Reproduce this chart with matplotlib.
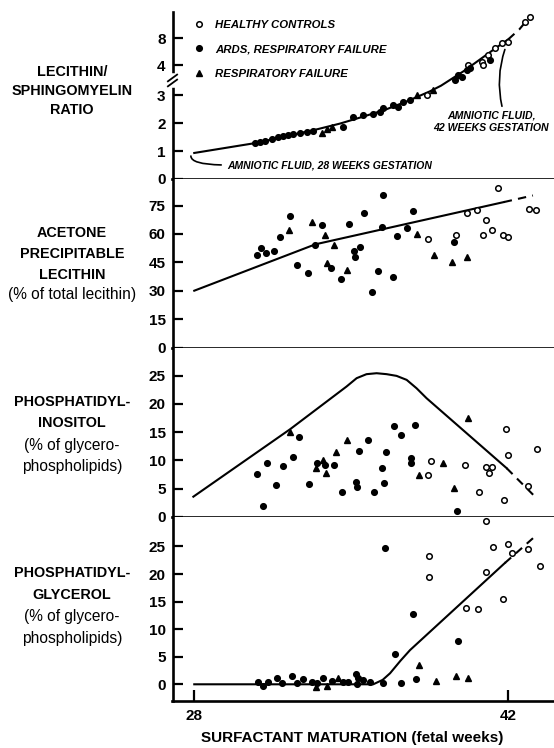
import numpy as np
import matplotlib
matplotlib.use('Agg')
import matplotlib.pyplot as plt

plt.rcParams['font.family'] = ['Liberation Sans Narrow', 'Liberation Sans', 'DejaVu Sans']

# ---------------- data ----------------
# panel 1: lecithin / sphingomyelin ratio
ls_line_x = [28.0, 29.0, 30.0, 30.7, 31.5, 32.5, 33.5, 34.5, 35.5, 36.5, 37.5, 38.5, 39.0, 39.5, 40.0, 40.5, 41.0, 41.5, 42.0]
ls_line_y = [0.93, 1.06, 1.19, 1.28, 1.42, 1.60, 1.78, 1.98, 2.22, 2.47, 2.78, 3.12, 3.31, 3.55, 3.79, 4.25, 5.45, 6.65, 7.8]
ls_dash_x = [42.0, 42.5, 42.9]
ls_dash_y = [7.8, 9.3, 10.9]
ls_hc_x = [38.36, 40.22, 40.81, 40.88, 41.11, 41.41, 41.71, 42.0, 42.74, 42.97]
ls_hc_y = [3.0, 4.0, 4.49, 4.0, 5.48, 6.5, 7.2, 7.4, 10.4, 11.1]
ls_ards_x = [30.71, 30.93, 31.16, 31.45, 31.75, 31.97, 32.19, 32.41, 32.71, 33.01, 33.31, 34.64, 35.09,
             35.53, 35.98, 36.28, 36.43, 36.87, 37.09, 37.32, 37.62, 39.62, 39.77, 39.92, 40.14, 40.29, 41.18]
ls_ards_y = [1.27, 1.33, 1.37, 1.42, 1.49, 1.54, 1.57, 1.61, 1.65, 1.69, 1.73, 1.87, 2.23,
             2.29, 2.33, 2.40, 2.52, 2.64, 2.58, 2.76, 2.82, 3.50, 3.67, 3.61, 3.83, 3.89, 4.74]
ls_rf_x = [33.68, 33.90, 34.13, 37.91, 38.66]
ls_rf_y = [1.63, 1.80, 1.86, 3.0, 3.17]

# panel 2: acetone precipitable lecithin (%)
apl_line_x = [28.0, 33.4, 41.8]
apl_line_y = [30.0, 54.5, 76.8]
apl_dash_x = [41.8, 43.1]
apl_dash_y = [76.8, 80.3]
apl_ards_x = [30.81, 30.96, 31.20, 31.55, 31.82, 32.27, 32.59, 33.05, 33.38, 33.68, 34.09, 34.53, 34.90,
              35.12, 35.15, 35.37, 35.58, 35.94, 36.20, 36.40, 36.38, 36.84, 37.02, 37.48, 37.77, 39.58]
apl_ards_y = [48.9, 52.6, 50.1, 50.8, 58.6, 69.4, 43.8, 39.2, 54.2, 64.8, 42.0, 36.2, 65.3,
              50.8, 48.0, 53.3, 71.1, 29.1, 40.6, 80.5, 63.5, 37.1, 59.1, 63.0, 72.2, 55.9]
apl_rf_x = [32.24, 33.26, 33.83, 33.90, 34.23, 34.79, 37.91, 38.67, 39.47, 40.14]
apl_rf_y = [61.8, 66.5, 59.5, 44.5, 54.4, 41.1, 60.0, 48.9, 45.0, 47.6]
apl_hc_x = [38.43, 39.65, 40.14, 40.59, 40.89, 41.03, 41.26, 41.55, 41.75, 42.0, 42.94, 43.23]
apl_hc_y = [57.4, 59.6, 70.9, 72.7, 59.5, 67.4, 61.8, 84.2, 59.6, 58.6, 73.2, 72.7]

# panel 3: phosphatidylinositol (%)
pi_line_x = [27.96, 32.27, 34.79, 35.24, 35.68, 36.13, 36.58, 37.02, 37.47, 37.91, 38.36, 41.93]
pi_line_y = [3.55, 15.5, 23.08, 24.56, 25.27, 25.44, 25.27, 24.97, 24.26, 22.78, 21.0, 8.6]
pi_dash_x = [41.93, 43.12]
pi_dash_y = [8.6, 3.85]
pi_ards_x = [30.78, 31.05, 31.26, 31.63, 31.97, 32.42, 32.67, 33.11, 33.46, 33.83, 34.24, 34.57, 35.2,
             35.24, 35.33, 35.73, 36.01, 36.38, 36.44, 36.55, 36.89, 37.22, 37.65, 37.65, 37.85, 39.71]
pi_ards_y = [7.57, 1.95, 9.59, 5.62, 9.05, 10.53, 14.2, 5.80, 9.47, 9.17, 9.17, 4.38, 6.21,
             5.21, 11.6, 13.6, 4.32, 8.58, 6.04, 11.4, 16.0, 14.4, 10.4, 9.59, 16.3, 1.07]
pi_rf_x = [32.27, 33.41, 33.75, 33.87, 34.32, 34.82, 38.0, 39.1, 39.6, 40.19]
pi_rf_y = [15.1, 8.58, 10.06, 7.69, 11.4, 13.6, 7.40, 9.47, 5.15, 17.5]
pi_hc_x = [38.43, 38.54, 40.08, 40.69, 41.0, 41.12, 41.27, 41.8, 41.92, 42.0, 42.86, 43.27]
pi_hc_y = [7.40, 9.94, 9.23, 4.38, 8.82, 7.81, 8.76, 3.02, 15.5, 10.95, 5.44, 12.07]

# panel 4: phosphatidylglycerol (%)
pg_line_x = [28.0, 35.98, 36.4, 36.73, 37.2, 37.62, 41.85]
pg_line_y = [0.0, 0.0, 0.8, 2.0, 4.3, 6.2, 22.0]
pg_dash_x = [41.85, 43.27]
pg_dash_y = [22.0, 27.1]
pg_ards_x = [30.86, 31.08, 31.30, 31.67, 31.90, 32.34, 32.56, 32.86, 33.23, 33.46, 33.75, 34.13, 34.65, 34.87,
             35.21, 35.27, 35.31, 35.54, 35.84, 36.43, 36.50, 36.95, 37.20, 37.74, 37.87, 39.77]
pg_ards_y = [0.48, -0.24, 0.36, 1.21, 0.30, 1.57, 0.30, 0.91, 0.36, 0.18, 1.21, 0.67, 0.36, 0.48,
             1.88, 0.0, 1.09, 0.79, 0.36, 0.18, 24.7, 5.45, 0.18, 12.7, 0.9, 7.93]
pg_rf_x = [33.41, 33.90, 34.42, 38.04, 38.78, 39.67, 40.22]
pg_rf_y = [-0.42, -0.24, 1.21, 3.45, 0.6, 1.57, 1.09]
pg_hc_x = [38.48, 38.48, 40.11, 40.63, 40.99, 41.0, 41.33, 41.78, 41.99, 42.15, 42.90, 43.42]
pg_hc_y = [23.3, 19.4, 13.9, 13.6, 29.7, 20.3, 24.9, 15.5, 25.4, 23.8, 24.5, 21.5]

legend_labels = ['HEALTHY CONTROLS', 'ARDS, RESPIRATORY FAILURE', 'RESPIRATORY FAILURE']


# broken y scale for the L/S ratio (0-3 linear, compressed above 4)
_bp_x = [-100.0, 3.0, 4.0, 100.0]
_bp_y = [-100.0, 3.0, 4.071, 4.071 + 96 * 0.2413]


def ls_fwd(v):
    return np.interp(v, _bp_x, _bp_y)


def ls_inv(v):
    return np.interp(v, _bp_y, _bp_x)


W, H = 554, 748
fig = plt.figure(figsize=(W / 100, H / 100), dpi=100)

left = 172.5 / W
width = 1 - left
panels_px = [(12, 179), (179, 347.5), (347.5, 516.7), (516.7, 701)]
axes = []
for top, bot in panels_px:
    axes.append(fig.add_axes([left, 1 - bot / H, width, (bot - top) / H]))
ax1, ax2, ax3, ax4 = axes


def style(ax, ylim, yticks):
    ax.set_xlim(27.03, 44.04)
    ax.set_ylim(*ylim)
    ax.set_yticks(yticks)
    ax.spines['top'].set_visible(False)
    ax.spines['right'].set_visible(False)
    ax.spines['left'].set_linewidth(1.9)
    ax.spines['bottom'].set_linewidth(1.9)
    ax.tick_params(axis='y', direction='in', length=7, width=1.6, labelsize=11, pad=5)
    ax.tick_params(axis='x', bottom=False, labelbottom=False)
    for lab in ax.get_yticklabels():
        lab.set_fontweight('bold')


def draw(ax, lx, ly, dx, dy, hx, hy, ax_, ay_, rx, ry):
    ax.plot(lx, ly, '-', color='k', lw=1.5, zorder=2)
    ax.plot(dx, dy, color='k', lw=1.5, ls=(0, (4, 3)), zorder=2)
    h1, = ax.plot(hx, hy, 'o', ms=4.0, mfc='white', mec='k', mew=1.1, zorder=3)
    h2, = ax.plot(ax_, ay_, 'o', ms=4.1, color='k', zorder=3)
    h3, = ax.plot(rx, ry, '^', ms=4.9, color='k', zorder=3)
    return [h1, h2, h3]


ax1.set_yscale('function', functions=(ls_fwd, ls_inv))
handles = draw(ax1, ls_line_x, ls_line_y, ls_dash_x, ls_dash_y, ls_hc_x, ls_hc_y,
               ls_ards_x, ls_ards_y, ls_rf_x, ls_rf_y)
style(ax1, (0, 11.85), [0, 1, 2, 3, 4, 8])

draw(ax2, apl_line_x, apl_line_y, apl_dash_x, apl_dash_y, apl_hc_x, apl_hc_y,
     apl_ards_x, apl_ards_y, apl_rf_x, apl_rf_y)
style(ax2, (0, 89), [0, 15, 30, 45, 60, 75])

draw(ax3, pi_line_x, pi_line_y, pi_dash_x, pi_dash_y, pi_hc_x, pi_hc_y,
     pi_ards_x, pi_ards_y, pi_rf_x, pi_rf_y)
style(ax3, (0, 30), [0, 5, 10, 15, 20, 25])

draw(ax4, pg_line_x, pg_line_y, pg_dash_x, pg_dash_y, pg_hc_x, pg_hc_y,
     pg_ards_x, pg_ards_y, pg_rf_x, pg_rf_y)
style(ax4, (-3.03, 30.4), [0, 5, 10, 15, 20, 25])
ax4.set_xticks([28, 42])
ax4.tick_params(axis='x', bottom=True, labelbottom=True, direction='in', length=8,
                width=1.6, labelsize=11, pad=6)
for lab in ax4.get_xticklabels():
    lab.set_fontweight('bold')

# legend
ax1.legend(handles, legend_labels, loc='upper left', bbox_to_anchor=(0.055, 0.955),
           frameon=False, borderpad=0, borderaxespad=0, handlelength=1.0,
           handletextpad=0.9, labelspacing=1.3,
           prop=dict(weight='bold', style='italic', size=8.2))

# break marks on the ratio axis
kw = dict(transform=ax1.transAxes, color='k', lw=1.3, clip_on=False)
ax1.plot([0, 0], [0.565, 0.615], color='white', lw=4, transform=ax1.transAxes, clip_on=False, zorder=4)
ax1.plot([-0.012, 0.012], [0.555, 0.595], zorder=5, **kw)
ax1.plot([-0.012, 0.012], [0.585, 0.625], zorder=5, **kw)

# annotations
ax1.annotate('AMNIOTIC FLUID, 28 WEEKS GESTATION', xy=(27.85, 0.82), xytext=(29.45, 0.5),
             ha='left', va='center', fontsize=7.5, fontweight='bold', style='italic',
             arrowprops=dict(arrowstyle='-', lw=1.2, color='k', shrinkA=2, shrinkB=0,
                             relpos=(0, 0.5), connectionstyle='angle3,angleA=0,angleB=90'))
ax1.annotate('AMNIOTIC FLUID,\n42 WEEKS GESTATION', xy=(41.85, 6.3), xytext=(41.25, 2.05),
             ha='center', va='center', multialignment='center', fontsize=7.6,
             fontweight='bold', style='italic', linespacing=1.3,
             arrowprops=dict(arrowstyle='-', lw=1.2, color='k', shrinkA=1, shrinkB=0,
                             relpos=(0.6, 1.0), connectionstyle='arc3,rad=-0.15'))

# left-hand panel titles
cx = 72 / W
titles = [
    ('LECITHIN/', 72, 'bold'), ('SPHINGOMYELIN', 91, 'bold'), ('RATIO', 110, 'bold'),
    ('ACETONE', 233, 'bold'), ('PRECIPITABLE', 254, 'bold'), ('LECITHIN', 275, 'bold'),
    ('(% of total lecithin)', 295, 'normal'),
    ('PHOSPHATIDYL-', 402, 'bold'), ('INOSITOL', 423, 'bold'), ('(% of glycero-', 445, 'normal'),
    ('phospholipids)', 466, 'normal'),
    ('PHOSPHATIDYL-', 573, 'bold'), ('GLYCEROL', 595, 'bold'), ('(% of glycero-', 617, 'normal'),
    ('phospholipids)', 638, 'normal'),
]
for txt, ypx, wt in titles:
    size = 10.4 if wt == 'bold' else 11.2
    fig.text(cx, 1 - ypx / H, txt, ha='center', va='center', fontsize=size, fontweight=wt)

fig.text(352 / W, 1 - 738 / H, 'SURFACTANT MATURATION (fetal weeks)', ha='center', va='center',
         fontsize=11, fontweight='bold')

fig.savefig('out.png', dpi=100)
